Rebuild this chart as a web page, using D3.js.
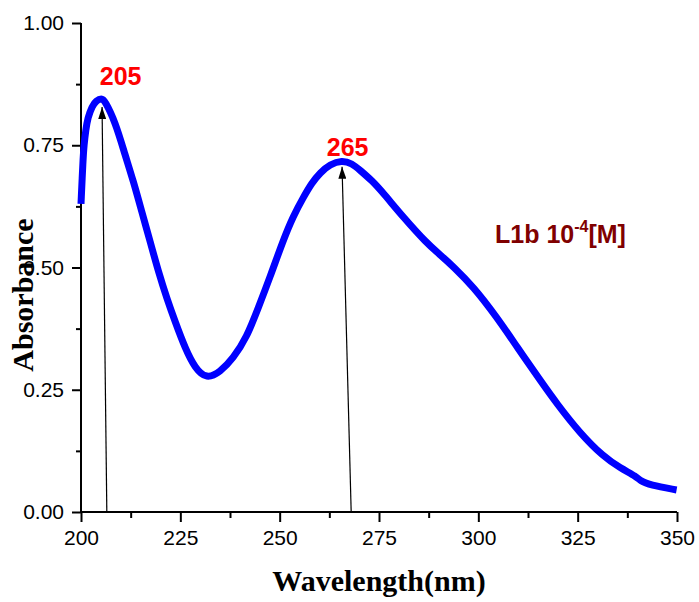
<!DOCTYPE html>
<html>
<head>
<meta charset="utf-8">
<script src="https://cdn.jsdelivr.net/npm/d3@7"></script>
<style>
  html, body { margin: 0; padding: 0; background: #fff; }
  svg { display: block; }
</style>
</head>
<body>
<svg id="chart" width="699" height="602"></svg>
<script>
// ---- data ----
const wavelength = [200.0, 200.5, 200.75, 201.2, 201.7, 202.8, 203.8, 205.2, 206.0, 208.6,
  211.1, 213.2, 215.3, 217.4, 219.5, 221.6, 223.7, 226.2, 228.7, 231.6,
  235.0, 238.3, 241.7, 244.6, 247.6, 250.9, 253.4, 256.0, 258.1, 260.2,
  262.7, 265.6, 268.2, 270.2, 273.2, 276.1, 281.1, 287.0, 290.4, 293.7,
  298.7, 304.6, 309.7, 315.5, 319.7, 325.6, 331.5, 335.7, 339.9, 340.7,
  343.2, 349.9];
const absorbance = [0.630, 0.720, 0.750, 0.781, 0.806, 0.830, 0.841, 0.846, 0.841, 0.798,
  0.730, 0.676, 0.614, 0.553, 0.491, 0.437, 0.389, 0.335, 0.294, 0.272,
  0.286, 0.314, 0.357, 0.417, 0.481, 0.556, 0.605, 0.644, 0.673, 0.694,
  0.711, 0.719, 0.713, 0.699, 0.678, 0.652, 0.603, 0.550, 0.526, 0.502,
  0.461, 0.399, 0.338, 0.270, 0.222, 0.161, 0.113, 0.090, 0.072, 0.064,
  0.055, 0.045];

const peakLabels = ["205", "265"];
const arrowTipX = [205.3, 265.7];
const arrowTipY = [0.828, 0.706];
const arrowBaseX = [206.5, 268.0];

const xTicks = [200, 225, 250, 275, 300, 325, 350];
const xMinorTicks = [212.5, 237.5, 262.5, 287.5, 312.5, 337.5];
const yTicks = [0, 0.25, 0.5, 0.75, 1.0];
const yMinorTicks = [0.125, 0.375, 0.625, 0.875];

const xTitle = "Wavelength(nm)";
const yTitle = "Absorbance";
const legendMain = "L1b 10";
const legendSup = "-4";
const legendTail = "[M]";

// ---- layout ----
const svg = d3.select("#chart");
const mLeft = 81, mRight = 677, mTop = 23, mBottom = 512;

const x = d3.scaleLinear().domain([200, 350]).range([mLeft, mRight]);
const y = d3.scaleLinear().domain([0, 1]).range([mBottom, mTop]);

const tickFont = "'Liberation Sans', Arial, sans-serif";
const titleFont = "'Liberation Serif', 'Times New Roman', serif";

// defs: arrowhead
svg.append("defs").append("marker")
  .attr("id", "arrowhead")
  .attr("viewBox", "0 0 12 8")
  .attr("refX", 12).attr("refY", 4)
  .attr("markerWidth", 12).attr("markerHeight", 8)
  .attr("markerUnits", "userSpaceOnUse")
  .attr("orient", "auto")
  .append("path").attr("d", "M0,0 L12,4 L0,8 Z").attr("fill", "#000");

// x axis
const xAxis = svg.append("g").attr("transform", `translate(0,${mBottom})`)
  .call(d3.axisBottom(x).tickValues(xTicks).tickFormat(d3.format("d")).tickSize(10).tickPadding(8));
const xMinor = svg.append("g").attr("transform", `translate(0,${mBottom})`)
  .call(d3.axisBottom(x).tickValues(xMinorTicks).tickFormat("").tickSize(6));
xMinor.select(".domain").remove();

// y axis
const yAxis = svg.append("g").attr("transform", `translate(${mLeft},0)`)
  .call(d3.axisLeft(y).tickValues(yTicks).tickFormat(d3.format(".2f")).tickSize(9).tickPadding(8));
const yMinor = svg.append("g").attr("transform", `translate(${mLeft},0)`)
  .call(d3.axisLeft(y).tickValues(yMinorTicks).tickFormat("").tickSize(5));
yMinor.select(".domain").remove();

[xAxis, xMinor, yAxis, yMinor].forEach(g => {
  g.selectAll(".domain").attr("stroke", "#000").attr("stroke-width", 2);
  g.selectAll(".tick line").attr("stroke", "#000").attr("stroke-width", 2);
  g.selectAll(".tick text").attr("font-family", tickFont).attr("font-size", 21).attr("fill", "#000");
});
xAxis.selectAll(".domain").attr("d", `M${mLeft},0H${mRight}`);
yAxis.selectAll(".domain").attr("d", `M0,${mTop}V${mBottom}`);

// arrows
arrowTipX.forEach((tx, i) => {
  svg.append("line")
    .attr("x1", x(arrowBaseX[i])).attr("y1", y(0))
    .attr("x2", x(tx)).attr("y2", y(arrowTipY[i]))
    .attr("stroke", "#000").attr("stroke-width", 1.2)
    .attr("marker-end", "url(#arrowhead)");
});

// curve
const pts = wavelength.map((w, i) => [w, absorbance[i]]);
const line = d3.line().x(d => x(d[0])).y(d => y(d[1])).curve(d3.curveBasis);
svg.append("path").datum(pts)
  .attr("d", line)
  .attr("fill", "none")
  .attr("stroke", "#0000ff")
  .attr("stroke-width", 7)
  .attr("stroke-linejoin", "round")
  .attr("stroke-linecap", "butt");

// peak labels
const labelOffsets = [[19, -13], [6, -4]];
peakLabels.forEach((t, i) => {
  const near = pts.filter(p => Math.abs(p[0] - +t) < 3);
  const pk = near.reduce((a, b) => (b[1] > a[1] ? b : a));
  svg.append("text")
    .attr("x", x(pk[0]) + labelOffsets[i][0])
    .attr("y", y(pk[1]) + labelOffsets[i][1])
    .attr("text-anchor", "middle")
    .attr("font-family", tickFont).attr("font-weight", "bold").attr("font-size", 25)
    .attr("fill", "#ff0000")
    .text(t);
});

// legend text
const lg = svg.append("text")
  .attr("x", 495).attr("y", 243)
  .attr("font-family", tickFont).attr("font-weight", "bold").attr("font-size", 25)
  .attr("fill", "#800000");
lg.append("tspan").text(legendMain);
lg.append("tspan").attr("font-size", 16).attr("dy", -11).text(legendSup);
lg.append("tspan").attr("dy", 11).text(legendTail);

// axis titles
svg.append("text")
  .attr("x", (mLeft + mRight) / 2).attr("y", 591)
  .attr("text-anchor", "middle")
  .attr("font-family", titleFont).attr("font-weight", "bold").attr("font-size", 30)
  .attr("fill", "#000")
  .text(xTitle);

svg.append("text")
  .attr("transform", `translate(33,295) rotate(-90)`)
  .attr("text-anchor", "middle")
  .attr("font-family", titleFont).attr("font-weight", "bold").attr("font-size", 30)
  .attr("fill", "#000")
  .text(yTitle);
</script>
</body>
</html>
